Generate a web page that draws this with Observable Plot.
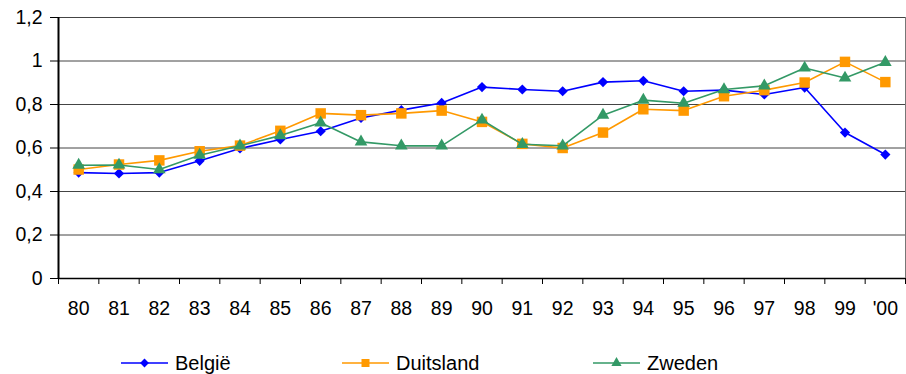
<!DOCTYPE html>
<html><head><meta charset="utf-8">
<script src="https://cdn.jsdelivr.net/npm/d3@7"></script>
<script src="https://cdn.jsdelivr.net/npm/@observablehq/plot@0.6"></script>
<style>
body{margin:0;background:#fff;font-family:"Liberation Sans",Arial,Helvetica,sans-serif;}
#chart{position:relative;width:906px;height:374px;overflow:hidden;}
#chart > svg{position:absolute;left:0;top:0;}
.legend{position:absolute;top:351px;left:0;width:906px;height:24px;}
.item{position:absolute;top:0;height:24px;display:flex;align-items:center;font-size:20px;color:#000;white-space:nowrap;}
.item svg{margin-right:7px;}
</style></head><body><div id="chart"></div>
<script>
const years = ["80","81","82","83","84","85","86","87","88","89","90","91","92","93","94","95","96","97","98","99","'00"];
const belgie = [0.487,0.483,0.487,0.541,0.598,0.639,0.677,0.738,0.774,0.807,0.880,0.869,0.861,0.903,0.909,0.861,0.866,0.846,0.878,0.671,0.570];
const duitsland = [0.501,0.524,0.543,0.585,0.611,0.679,0.759,0.751,0.759,0.772,0.720,0.619,0.600,0.671,0.778,0.772,0.838,0.866,0.901,0.996,0.903];
const zweden = [0.521,0.522,0.501,0.567,0.610,0.657,0.716,0.628,0.610,0.610,0.729,0.617,0.610,0.751,0.820,0.806,0.869,0.886,0.968,0.922,0.994];
const seriesNames = ["België","Duitsland","Zweden"];
const seriesColors = ["#0000FF","#FF9900","#339966"];
const yTicks = [0,0.2,0.4,0.6,0.8,1,1.2];
const yTickLabels = ["0","0,2","0,4","0,6","0,8","1","1,2"];

const seriesValues = [belgie, duitsland, zweden];
const symbols = ["diamond2","square","triangle"];
const symbolR = [4.6, 5.9, 4.7];
const centers = years.map((_, i) => i + 0.5);
const boundaries = d3.range(years.length + 1);

const seriesMarks = seriesValues.flatMap((vals, s) => {
  const data = vals.map((v, i) => ({x: centers[i], v}));
  return [
    Plot.line(data, {x: "x", y: "v", stroke: seriesColors[s], strokeWidth: 1.6}),
    Plot.dot(data, {x: "x", y: "v", symbol: () => symbols[s], fill: seriesColors[s], stroke: "none", r: symbolR[s]})
  ];
});

const plot = Plot.plot({
  width: 906,
  height: 330,
  marginLeft: 58,
  marginRight: 1,
  marginTop: 17,
  marginBottom: 52,
  style: {fontFamily: '"Liberation Sans", Arial, Helvetica, sans-serif', fontSize: "19.5px", color: "#000", background: "#fff", overflow: "visible"},
  x: {type: "linear", domain: [0, years.length]},
  y: {domain: [0, 1.2]},
  symbol: {type: "identity"},
  marks: [
    Plot.ruleY(yTicks.filter(d => d > 0), {stroke: "#444", strokeWidth: 1}),
    Plot.ruleX([years.length], {stroke: "#777", strokeWidth: 1}),
    Plot.axisY({ticks: yTicks, tickFormat: d => yTickLabels[yTicks.indexOf(d)], tickSize: 8, tickPadding: 8, label: null}),
    Plot.axisX({ticks: boundaries, tickFormat: () => "", tickSize: 6, label: null}),
    Plot.axisX({ticks: centers, tickFormat: d => years[Math.floor(d)], tickSize: 0, tickPadding: 23, label: null}),
    Plot.ruleY([0], {stroke: "#000", strokeWidth: 1.5}),
    Plot.ruleX([0], {stroke: "#000", strokeWidth: 2}),
    ...seriesMarks
  ]
});
document.getElementById("chart").appendChild(plot);

// legend
const legendLeft = [121, 342, 593];
const legend = d3.select("#chart").append("div").attr("class", "legend");
seriesNames.forEach((name, s) => {
  const item = legend.append("div").attr("class", "item").style("left", legendLeft[s] + "px");
  const sw = item.append("svg").attr("width", 47).attr("height", 24);
  sw.append("line").attr("x1", 0).attr("x2", 47).attr("y1", 12).attr("y2", 12)
    .attr("stroke", seriesColors[s]).attr("stroke-width", 1.6);
  const sym = [d3.symbolDiamond2, d3.symbolSquare, d3.symbolTriangle][s];
  const size = [50, 64, 45][s];
  sw.append("path").attr("transform", "translate(23.5,12)")
    .attr("d", d3.symbol(sym, size)()).attr("fill", seriesColors[s]);
  item.append("span").text(name);
});
</script>
</body></html>
